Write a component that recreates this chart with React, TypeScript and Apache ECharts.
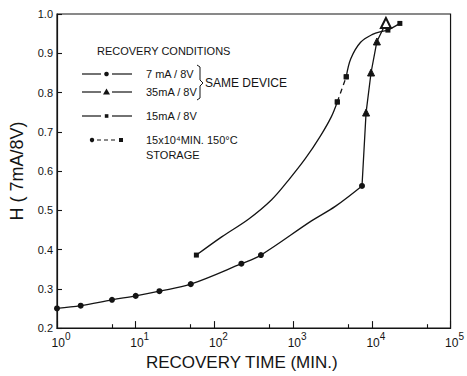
import React, { useEffect, useRef } from "react";
import * as echarts from "echarts";

// ---- data ----
const lowT = [1, 2, 5, 10, 20, 50, 220, 390, 1710, 3430, 7500];
const lowH = [0.25, 0.257, 0.272, 0.282, 0.294, 0.312, 0.364, 0.386, 0.473, 0.51, 0.562];
const lowMarked = [true, true, true, true, true, true, true, true, false, false, true];

const triT = [7500, 8450, 9780, 11600, 15100];
const triH = [0.562, 0.749, 0.851, 0.93, 0.977];

const hiT = [59, 125, 273, 533, 875, 1434, 2218, 3053, 3640];
const hiH = [0.386, 0.433, 0.478, 0.527, 0.577, 0.632, 0.689, 0.738, 0.776];
const hiMarked = [true, false, false, false, false, false, false, false, true];

const storT = [3640, 4730];
const storH = [0.776, 0.84];

const hi2T = [4730, 5400, 7200, 10200, 13500, 16000, 22700];
const hi2H = [0.84, 0.886, 0.928, 0.948, 0.956, 0.959, 0.976];
const hi2Marked = [true, false, false, false, false, true, true];

const minorTicks = [5, 50, 500, 5000, 50000];
const yTickLabels = ["0.2", "0.3", "0.4", "0.5", "0.6", "0.7", "0.8", "0.9", "1.0"];

const legendRows = ["7 mA / 8V", "35mA / 8V", "15mA / 8V"];
const storageLines = ["15x10⁴MIN. 150°C", "STORAGE"];

const INK = "#141414";
const FONT = "'Liberation Sans Narrow', 'Liberation Sans', sans-serif";

export default function App() {
  const ref = useRef<HTMLDivElement>(null);
  useEffect(() => {
    if (!ref.current) return;
    const chart = echarts.init(ref.current, undefined, { renderer: "svg" });

    const pts = (t: number[], h: number[], marked?: boolean[], sym?: string) =>
      t.map((x, i) => {
        const item: any = { value: [x, h[i]] };
        if (marked && !marked[i]) item.symbol = "none";
        return item;
      });

    const triData = pts(triT, triH);
    triData[0].symbol = "none";
    triData[triData.length - 1].symbol = "emptyTriangle";
    triData[triData.length - 1].symbolSize = 10;

    const tickLen = 4 / 403;
    const option: any = {
      animation: false,
      backgroundColor: "#ffffff",
      grid: {
        left: 57,
        right: 14,
        top: 14,
        bottom: 39,
        show: true,
        borderColor: INK,
        borderWidth: 1.2,
      },
      xAxis: {
        type: "log",
        logBase: 10,
        min: 1,
        max: 100000,
        name: "RECOVERY TIME (MIN.)",
        nameLocation: "middle",
        nameGap: 22,
        nameTextStyle: {
          fontFamily: FONT,
          fontSize: 17,
          color: INK,
          verticalAlign: "top",
          padding: [0, 24, 0, 0],
        },
        axisLine: { lineStyle: { color: INK, width: 1.2 } },
        axisTick: { inside: true, length: 7, lineStyle: { color: INK, width: 1.1 } },
        splitLine: { show: false },
        minorTick: { show: false },
        axisLabel: {
          margin: 3,
          color: INK,
          padding: [0, 0, 0, 8],
          formatter: (v: number) => `{b|10}{s|${Math.round(Math.log10(v))}}`,
          rich: {
            b: { fontFamily: FONT, fontSize: 12, color: INK, lineHeight: 18, verticalAlign: "bottom" },
            s: { fontFamily: FONT, fontSize: 10, color: INK, lineHeight: 8, verticalAlign: "top" },
          },
        },
      },
      yAxis: {
        type: "value",
        min: 0.2,
        max: 1.0,
        interval: 0.1,
        name: "H ( 7mA/8V)",
        nameLocation: "middle",
        nameGap: 31,
        nameTextStyle: { fontFamily: FONT, fontSize: 18, color: INK },
        axisLine: { show: true, lineStyle: { color: INK, width: 1.2 } },
        axisTick: { show: true, inside: true, length: 5, lineStyle: { color: INK, width: 1.1 } },
        splitLine: { show: false },
        axisLabel: {
          margin: 4,
          fontFamily: FONT,
          fontSize: 11,
          color: INK,
          formatter: (v: number) => {
            const i = Math.round((v - 0.2) * 10);
            return yTickLabels[i] ?? v.toFixed(1);
          },
        },
      },
      series: [
        {
          name: "7mA/8V",
          type: "line",
          data: pts(lowT, lowH, lowMarked),
          smooth: 0.35,
          symbol: "circle",
          symbolSize: 6,
          itemStyle: { color: INK },
          lineStyle: { color: INK, width: 1.3 },
          markLine: {
            silent: true,
            symbol: ["none", "none"],
            label: { show: false },
            lineStyle: { color: INK, width: 1.1, type: "solid" },
            data: minorTicks.map((t) => [{ coord: [t, 0.2] }, { coord: [t, 0.2 + tickLen] }]),
          },
        },
        {
          name: "35mA/8V",
          type: "line",
          data: triData,
          symbol: "triangle",
          symbolSize: 7,
          itemStyle: { color: INK, borderColor: INK },
          lineStyle: { color: INK, width: 1.3 },
        },
        {
          name: "15mA/8V",
          type: "line",
          data: pts(hiT, hiH, hiMarked),
          smooth: 0.35,
          symbol: "rect",
          symbolSize: 5,
          itemStyle: { color: INK },
          lineStyle: { color: INK, width: 1.3 },
        },
        {
          name: "storage",
          type: "line",
          data: pts(storT, storH),
          symbol: "rect",
          symbolSize: 5,
          itemStyle: { color: INK },
          lineStyle: { color: INK, width: 1.3, type: [5, 4] },
        },
        {
          name: "15mA/8V b",
          type: "line",
          data: pts(hi2T, hi2H, hi2Marked),
          smooth: 0.35,
          symbol: "rect",
          symbolSize: 5,
          itemStyle: { color: INK },
          lineStyle: { color: INK, width: 1.3 },
        },
      ],
      graphic: [
        {
          type: "text",
          x: 97,
          y: 51,
          style: { text: "RECOVERY CONDITIONS", fontFamily: FONT, fontSize: 11, fill: INK, verticalAlign: "middle" },
        },
        // legend rows
        ...[74, 92, 116].flatMap((y, i) => {
          const els: any[] = [
            { type: "line", shape: { x1: 82, y1: y, x2: 101, y2: y }, style: { stroke: INK, lineWidth: 1.2 } },
            { type: "line", shape: { x1: 112, y1: y, x2: 132, y2: y }, style: { stroke: INK, lineWidth: 1.2 } },
            {
              type: "text",
              x: 146,
              y,
              style: { text: legendRows[i], fontFamily: FONT, fontSize: 11, fill: INK, verticalAlign: "middle" },
            },
          ];
          if (i === 0) els.push({ type: "circle", shape: { cx: 106.5, cy: y, r: 2.3 }, style: { fill: INK } });
          if (i === 1)
            els.push({
              type: "polygon",
              shape: { points: [[106.5, y - 3.5], [110, y + 2.5], [103, y + 2.5]] },
              style: { fill: INK },
            });
          if (i === 2) els.push({ type: "rect", shape: { x: 104.8, y: y - 1.8, width: 3.6, height: 3.6 }, style: { fill: INK } });
          return els;
        }),
        // storage row
        { type: "circle", shape: { cx: 92, cy: 140, r: 2.2 }, style: { fill: INK } },
        {
          type: "line",
          shape: { x1: 97, y1: 140, x2: 118, y2: 140 },
          style: { stroke: INK, lineWidth: 1.2, lineDash: [4, 3] },
        },
        { type: "rect", shape: { x: 119, y: 138, width: 4, height: 4 }, style: { fill: INK } },
        {
          type: "text",
          x: 146,
          y: 140,
          style: { text: storageLines[0], fontFamily: FONT, fontSize: 11, fill: INK, verticalAlign: "middle" },
        },
        {
          type: "text",
          x: 146,
          y: 155,
          style: { text: storageLines[1], fontFamily: FONT, fontSize: 11, fill: INK, verticalAlign: "middle" },
        },
        // brace
        {
          type: "polyline",
          shape: {
            points: [
              [197, 65],
              [200, 67],
              [200, 80],
              [203, 83],
              [200, 86],
              [200, 98],
              [197, 100],
            ],
          },
          style: { stroke: INK, lineWidth: 1, fill: "none" },
        },
        {
          type: "text",
          x: 205,
          y: 83,
          style: { text: "SAME DEVICE", fontFamily: FONT, fontSize: 12, fill: INK, verticalAlign: "middle" },
        },
      ],
    };
    chart.setOption(option);
    return () => chart.dispose();
  }, []);
  return <div ref={ref} style={{ width: 467, height: 376, position: "absolute", left: 0, top: 0 }} />;
}
